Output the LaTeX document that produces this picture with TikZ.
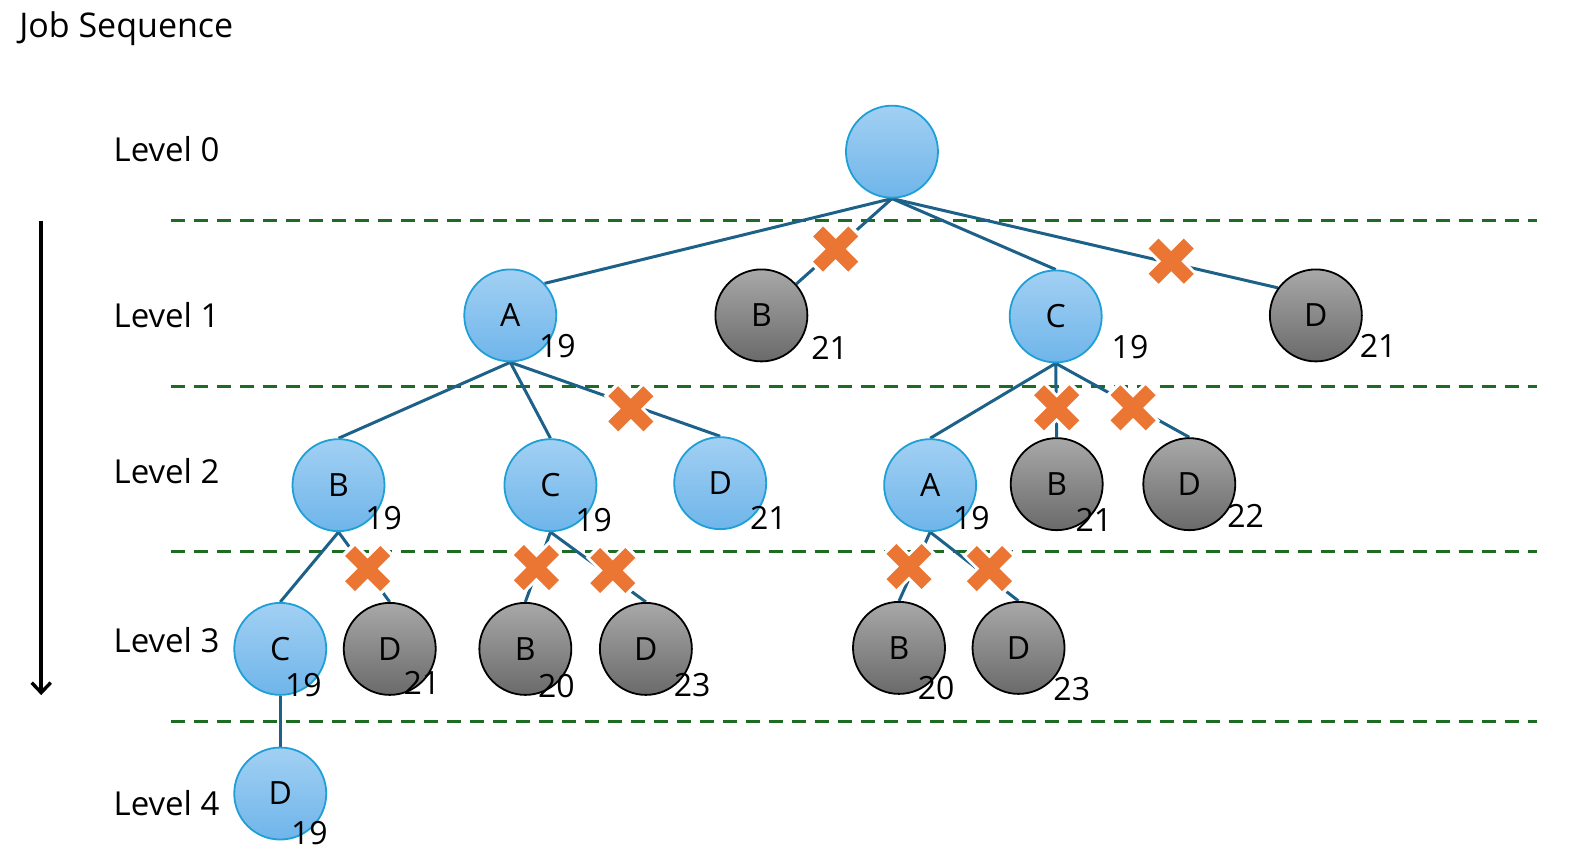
\documentclass[tikz,border=0pt]{standalone}
\usepackage{fontspec}
\setmainfont{Open Sans}
\usetikzlibrary{arrows.meta}
\pgfdeclarelayer{background}
\pgfsetlayers{background,main}

\definecolor{bluefillA}{HTML}{A2D0F3}
\definecolor{bluefillB}{HTML}{6FB5EA}
\definecolor{blueborder}{HTML}{1E9FD6}
\definecolor{grayfillA}{HTML}{A8A8A8}
\definecolor{grayfillB}{HTML}{6A6A6A}
\definecolor{edgecol}{HTML}{1D6189}
\definecolor{levelline}{HTML}{1E6B24}
\definecolor{crosscol}{HTML}{EB7532}

\tikzset{
  job/.style={circle, minimum size=92pt, inner sep=0pt, line width=1.8pt,
    font=\fontsize{32}{32}\selectfont},
  open/.style={job, draw=blueborder, top color=bluefillA, bottom color=bluefillB},
  pruned/.style={job, draw=black, top color=grayfillA, bottom color=grayfillB},
  num/.style={inner sep=0pt, font=\fontsize{32}{32}\selectfont},
  lvl/.style={inner sep=0pt, anchor=west, font=\fontsize{33}{33}\selectfont},
  branch/.style={draw=edgecol, line width=3pt},
  sep/.style={draw=levelline, line width=3pt, dash pattern=on 14pt off 9pt},
  cut/.pic={
    \draw[white, line width=20pt] (-20,-20) -- (20,20) (-20,20) -- (20,-20);
    \draw[crosscol, line width=14pt] (-17.5,-17.5) -- (17.5,17.5) (-17.5,17.5) -- (17.5,-17.5);
  }
}

\begin{document}
\begin{tikzpicture}[x=1.0045pt, y=-1.0045pt]
\useasboundingbox (0,0) rectangle (1568,863);

% title and level captions
\node[inner sep=0pt, anchor=base west, font=\fontsize{34}{34}\selectfont] (title) at (19,37) {Job Sequence};
\node[lvl] (l0) at (113,148) {Level 0};
\node[lvl] (l1) at (113,314) {Level 1};
\node[lvl] (l2) at (113,469) {Level 2};
\node[lvl] (l3) at (113,637) {Level 3};
\node[lvl] (l4) at (113,800) {Level 4};

% depth arrow
\coordinate (arrtop) at (41,220);
\coordinate (arrbot) at (41,692);
\draw[line width=3.4pt, -{Straight Barb[length=10pt, width=19pt, line width=3.4pt]}] (arrtop) -- (arrbot);

% search tree nodes
\node[open] (root) at (888,151) {};
\node[open]   (a1) at (508,314) {A};
\node[pruned] (b1) at (758,314) {B};
\node[open]   (c1) at (1051,315) {C};
\node[pruned] (d1) at (1310,314) {D};

\node[open]   (ab2) at (337,483) {B};
\node[open]   (ac2) at (548,483) {C};
\node[open]   (ad2) at (717,481) {D};
\node[open]   (ca2) at (926,483) {A};
\node[pruned] (cb2) at (1052,482) {B};
\node[pruned] (cd2) at (1184,482) {D};

\node[open]   (abc3) at (279,646) {C};
\node[pruned] (abd3) at (388,646) {D};
\node[pruned] (acb3) at (523,646) {B};
\node[pruned] (acd3) at (643,646) {D};
\node[pruned] (cab3) at (895,645) {B};
\node[pruned] (cad3) at (1014,645) {D};

\node[open] (abcd4) at (279,790) {D};

% bound values
\node[num] at (555,345) {19};
\node[num] at (826,346) {21};
\node[num] at (1125,346) {19};
\node[num] at (1372,344) {21};
\node[num] at (382,516) {19};
\node[num] at (591,518) {19};
\node[num] at (765,516) {21};
\node[num] at (967,516) {19};
\node[num] at (1089,518) {21};
\node[num] at (1240,514) {22};
\node[num] at (302,682) {19};
\node[num] at (420,680) {21};
\node[num] at (554,683) {20};
\node[num] at (689,682) {23};
\node[num] at (932,685) {20};
\node[num] at (1067,686) {23};
\node[num] at (308,829) {19};

\begin{pgfonlayer}{background}
  % level separators
  \foreach \yy in {219.5,385,549,718} \draw[sep] (170,\yy) -- (1530,\yy);

  % branches
  \draw[branch] (root.south) -- (a1.43);
  \draw[branch] (root.south) -- (b1.42);
  \draw[branch] (root.south) -- (c1.north);
  \draw[branch] (root.south) -- (d1.144);
  \foreach \p/\c in {a1/ab2, a1/ac2, a1/ad2, c1/ca2, c1/cb2, c1/cd2,
                     ab2/abc3, ab2/abd3, ac2/acb3, ac2/acd3, ca2/cab3, ca2/cad3,
                     abc3/abcd4}
    \draw[branch] (\p.south) -- (\c.north);

  % pruning marks
  \foreach \xx/\yy in {832/248, 1166/260, 628/407, 1052/406, 1128/406,
                       366/566, 534/565, 610/568, 905/564, 985/566}
    \pic at (\xx,\yy) {cut};
\end{pgfonlayer}
\end{tikzpicture}
\end{document}
